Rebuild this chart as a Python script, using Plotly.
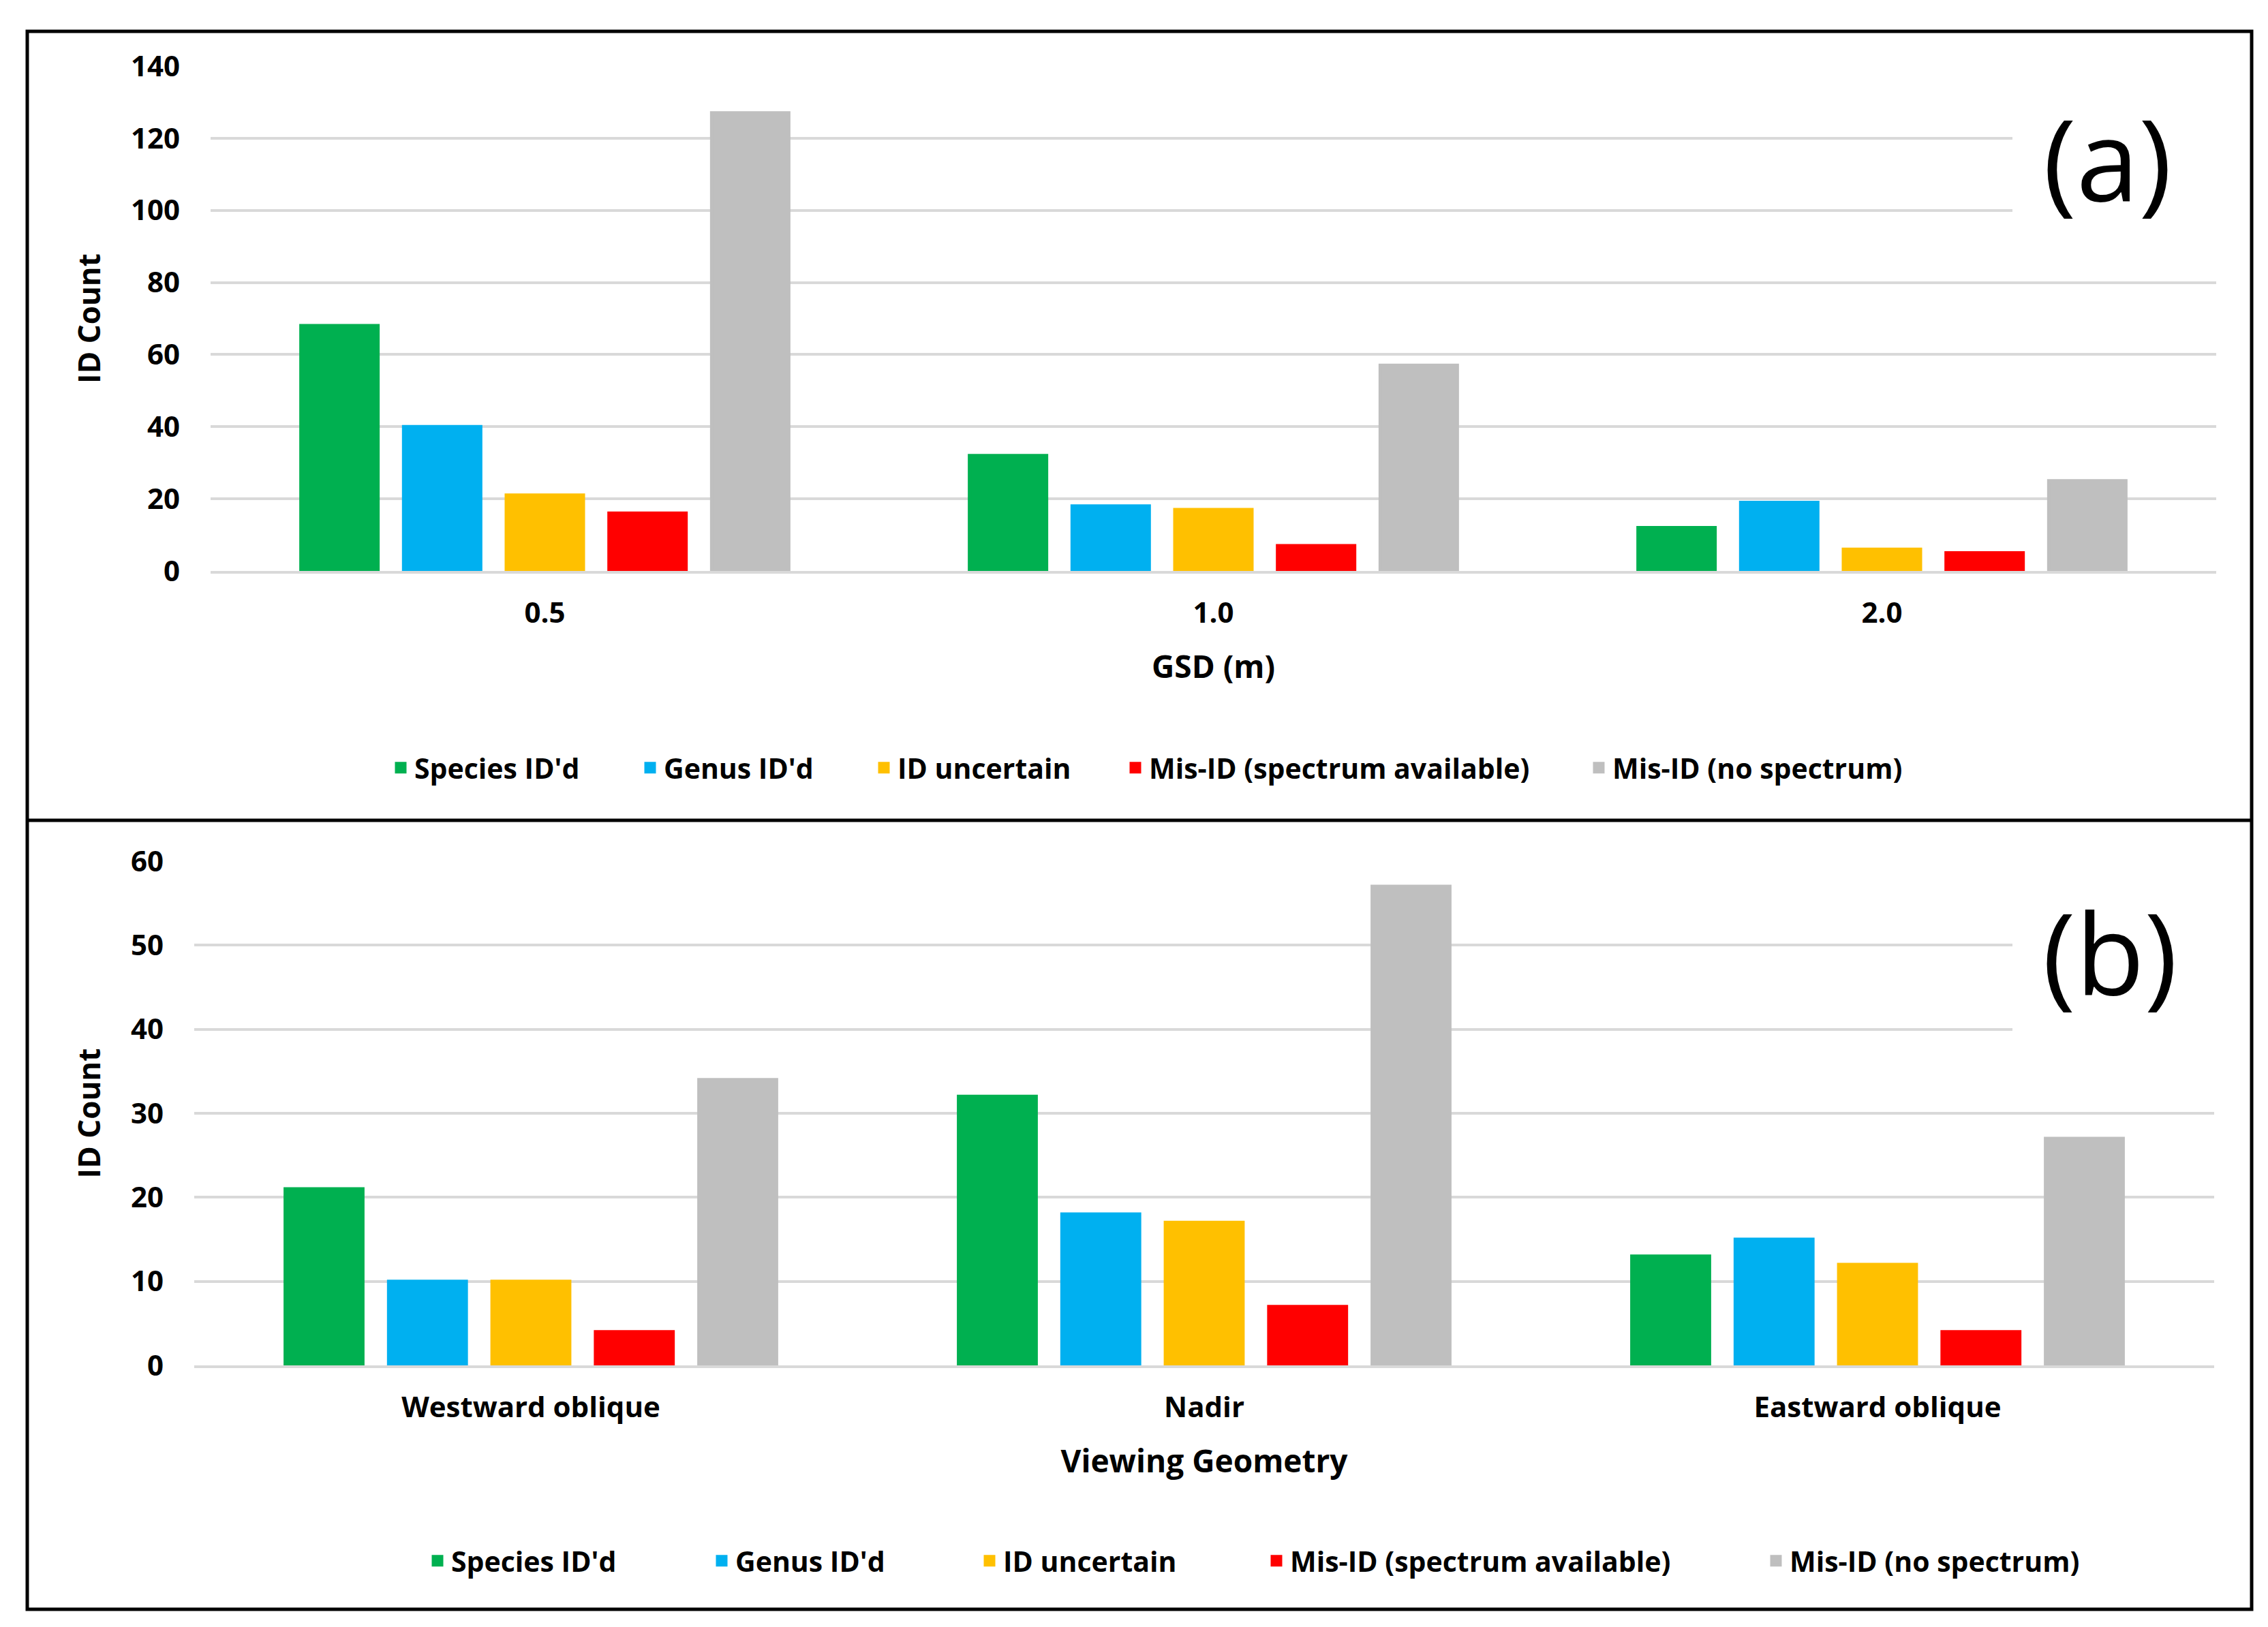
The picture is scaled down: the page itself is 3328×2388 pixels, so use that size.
import plotly.graph_objects as go

W, H = 3328, 2388

series_names = ["Species ID'd", "Genus ID'd", "ID uncertain",
                "Mis-ID (spectrum available)", "Mis-ID (no spectrum)"]
series_colors = ["#00B050", "#00B0F0", "#FFC000", "#FF0000", "#BFBFBF"]

gsd_categories = ["0.5", "1.0", "2.0"]
gsd_species = [68, 32, 12]
gsd_genus = [40, 18, 19]
gsd_uncertain = [21, 17, 6]
gsd_misid_spec = [16, 7, 5]
gsd_misid_nospec = [127, 57, 25]

view_categories = ["Westward oblique", "Nadir", "Eastward oblique"]
view_species = [21, 32, 13]
view_genus = [10, 18, 15]
view_uncertain = [10, 17, 12]
view_misid_spec = [4, 7, 4]
view_misid_nospec = [34, 57, 27]

gsd_values = [gsd_species, gsd_genus, gsd_uncertain, gsd_misid_spec, gsd_misid_nospec]
view_values = [view_species, view_genus, view_uncertain, view_misid_spec, view_misid_nospec]

# legend text start positions (px) for each item
leg_a_text_x = [600, 966, 1309, 1678, 2358]
leg_b_text_x = [654, 1071, 1464, 1885, 2618]
leg_a_y = 1119
leg_b_y = 2283

FONT = "Open Sans"
px = lambda x: x / W
py = lambda y: 1 - y / H

fig = go.Figure()

for i, (nm, col, vals) in enumerate(zip(series_names, series_colors, gsd_values)):
    fig.add_trace(go.Bar(x=gsd_categories, y=vals, name=nm,
                         marker=dict(color=col, line=dict(color=col, width=5)),
                         xaxis="x", yaxis="y",
                         legend="legend" if i == 0 else f"legend{i+1}"))
for i, (nm, col, vals) in enumerate(zip(series_names, series_colors, view_values)):
    fig.add_trace(go.Bar(x=view_categories, y=vals, name=nm,
                         marker=dict(color=col, line=dict(color=col, width=5)),
                         xaxis="x2", yaxis="y2",
                         legend=f"legend{i+6}"))

tickfont = dict(family=FONT, size=42, color="#000000", weight="bold")
titlefont = dict(family=FONT, size=46, color="#000000", weight="bold")
ytitlefont = dict(family=FONT, size=44, color="#000000", weight="bold")
grid = "#D9D9D9"

layout = dict(
    width=W, height=H,
    margin=dict(l=0, r=0, t=0, b=0),
    paper_bgcolor="white", plot_bgcolor="white",
    barmode="group", bargap=0.232, bargroupgap=0.25,
    showlegend=True,
    xaxis=dict(domain=[px(301), px(3244)], anchor="y", type="category",
               showgrid=False, showline=True, linecolor=grid, linewidth=4,
               ticks="", tickfont=tickfont, ticklabelstandoff=22, automargin=False,
               title=dict(text="GSD (m)", font=titlefont, standoff=38)),
    yaxis=dict(domain=[py(830), py(89)], anchor="x", range=[0, 140], dtick=20,
               showgrid=True, gridcolor=grid, gridwidth=4, zeroline=False,
               showline=False, ticks="", tickfont=tickfont, ticklabelstandoff=44,
               automargin=False,
               title=dict(text="ID Count", font=ytitlefont, standoff=30)),
    xaxis2=dict(domain=[px(277), px(3241)], anchor="y2", type="category",
                showgrid=False, showline=True, linecolor=grid, linewidth=4,
                ticks="", tickfont=tickfont, ticklabelstandoff=22, automargin=False,
                title=dict(text="Viewing Geometry", font=titlefont, standoff=38)),
    yaxis2=dict(domain=[py(1996), py(1256)], anchor="x2", range=[0, 60], dtick=10,
                showgrid=True, gridcolor=grid, gridwidth=4, zeroline=False,
                showline=False, ticks="", tickfont=tickfont, ticklabelstandoff=44,
                automargin=False,
                title=dict(text="ID Count", font=ytitlefont, standoff=30)),
)

legfont = dict(family=FONT, size=41, color="#000000", weight="bold")
for i in range(10):
    key = "legend" if i == 0 else f"legend{i+1}"
    if i < 5:
        xl = leg_a_text_x[i] - 40
        yl = leg_a_y
    else:
        xl = leg_b_text_x[i - 5] - 40
        yl = leg_b_y
    layout[key] = dict(x=px(xl), xanchor="left", y=py(yl), yanchor="middle",
                       orientation="h", bgcolor="rgba(0,0,0,0)", borderwidth=0,
                       font=legfont, itemclick=False, itemdoubleclick=False)

fig.update_layout(**layout)

shapes = [
    # white boxes behind panel labels (hide gridline ends)
    dict(type="rect", xref="paper", yref="paper", x0=px(2945), x1=px(3250),
         y0=py(330), y1=py(80), fillcolor="white", line=dict(width=0), layer="above"),
    dict(type="rect", xref="paper", yref="paper", x0=px(2945), x1=px(3250),
         y0=py(1530), y1=py(1245), fillcolor="white", line=dict(width=0), layer="above"),
    # outer frame and divider
    dict(type="rect", xref="paper", yref="paper", x0=px(32), x1=px(3296),
         y0=py(2354), y1=py(38), line=dict(color="black", width=5), fillcolor="rgba(0,0,0,0)",
         layer="above"),
    dict(type="line", xref="paper", yref="paper", x0=px(32), x1=px(3296),
         y0=py(1196), y1=py(1196), line=dict(color="black", width=5), layer="above"),
]
fig.update_layout(shapes=shapes)

fig.add_annotation(text="(a)", xref="paper", yref="paper", x=px(3084), y=py(223),
                   showarrow=False, xanchor="center", yanchor="middle",
                   font=dict(family=FONT, size=165, color="#000000"))
fig.add_annotation(text="(b)", xref="paper", yref="paper", x=px(3088), y=py(1388),
                   showarrow=False, xanchor="center", yanchor="middle",
                   font=dict(family=FONT, size=165, color="#000000"))

fig.write_html("out.html")
